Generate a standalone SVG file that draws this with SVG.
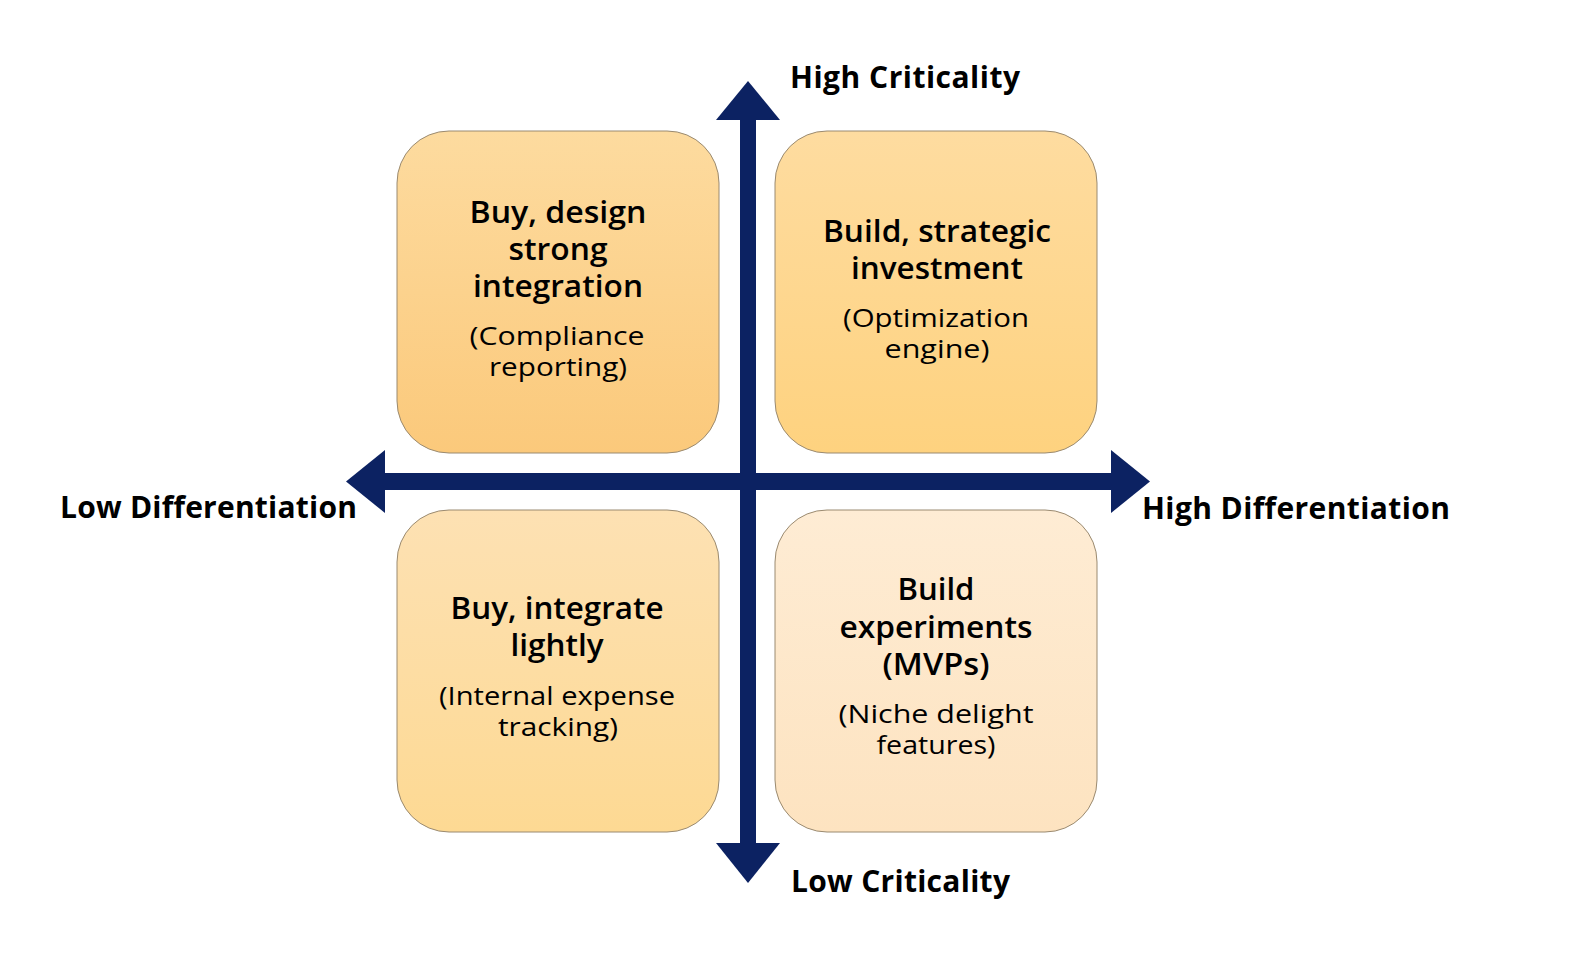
<svg xmlns="http://www.w3.org/2000/svg" width="1574" height="954" viewBox="0 0 1574 954">
<defs>
<linearGradient id="gTL" x1="0" y1="0" x2="0" y2="1"><stop offset="0" stop-color="#fddb9f"/><stop offset="1" stop-color="#fbc97b"/></linearGradient>
<linearGradient id="gTR" x1="0" y1="0" x2="0" y2="1"><stop offset="0" stop-color="#fedca0"/><stop offset="1" stop-color="#fed27f"/></linearGradient>
<linearGradient id="gBL" x1="0" y1="0" x2="0" y2="1"><stop offset="0" stop-color="#fde1b3"/><stop offset="1" stop-color="#fdd993"/></linearGradient>
<linearGradient id="gBR" x1="0" y1="0" x2="0" y2="1"><stop offset="0" stop-color="#feecd4"/><stop offset="1" stop-color="#fde3c0"/></linearGradient>
</defs>
<style>
.box{stroke:#9a8a70;stroke-width:1}
.axis{fill:#0c2262}
.ax{font-family:"Open Sans","Liberation Sans",sans-serif;font-weight:700;font-size:30px;fill:#000}
.t{font-family:"Open Sans","Liberation Sans",sans-serif;font-weight:600;font-size:31px;fill:#000;text-anchor:middle}
.s{font-family:"Open Sans","Liberation Sans",sans-serif;font-weight:normal;font-size:26px;fill:#000;text-anchor:middle}
</style>
<rect width="1574" height="954" fill="#fff"/>
<g id="q-tl">
<rect class="box" x="397" y="131" width="322" height="322" rx="52" fill="url(#gTL)"/>
<text class="t" x="558" y="223" textLength="177" lengthAdjust="spacingAndGlyphs">Buy, design</text>
<text class="t" x="558" y="260" textLength="99" lengthAdjust="spacingAndGlyphs">strong</text>
<text class="t" x="558" y="297" textLength="170" lengthAdjust="spacingAndGlyphs">integration</text>
<text class="s" x="557" y="345" textLength="175" lengthAdjust="spacingAndGlyphs">(Compliance</text>
<text class="s" x="558" y="376" textLength="138" lengthAdjust="spacingAndGlyphs">reporting)</text>
</g>
<g id="q-tr">
<rect class="box" x="775" y="131" width="322" height="322" rx="52" fill="url(#gTR)"/>
<text class="t" x="937" y="242" textLength="228" lengthAdjust="spacingAndGlyphs">Build, strategic</text>
<text class="t" x="937" y="279" textLength="172" lengthAdjust="spacingAndGlyphs">investment</text>
<text class="s" x="936" y="327" textLength="186" lengthAdjust="spacingAndGlyphs">(Optimization</text>
<text class="s" x="937" y="358" textLength="105" lengthAdjust="spacingAndGlyphs">engine)</text>
</g>
<g id="q-bl">
<rect class="box" x="397" y="510" width="322" height="322" rx="52" fill="url(#gBL)"/>
<text class="t" x="557" y="619" textLength="213" lengthAdjust="spacingAndGlyphs">Buy, integrate</text>
<text class="t" x="557" y="656" textLength="93" lengthAdjust="spacingAndGlyphs">lightly</text>
<text class="s" x="557" y="705" textLength="236" lengthAdjust="spacingAndGlyphs">(Internal expense</text>
<text class="s" x="558" y="736" textLength="120" lengthAdjust="spacingAndGlyphs">tracking)</text>
</g>
<g id="q-br">
<rect class="box" x="775" y="510" width="322" height="322" rx="52" fill="url(#gBR)"/>
<text class="t" x="936" y="600" textLength="77" lengthAdjust="spacingAndGlyphs">Build</text>
<text class="t" x="936" y="638" textLength="193" lengthAdjust="spacingAndGlyphs">experiments</text>
<text class="t" x="936" y="675" textLength="107" lengthAdjust="spacingAndGlyphs">(MVPs)</text>
<text class="s" x="936" y="723" textLength="195" lengthAdjust="spacingAndGlyphs">(Niche delight</text>
<text class="s" x="936" y="754" textLength="119" lengthAdjust="spacingAndGlyphs">features)</text>
</g>
<g id="connectors">
<rect class="axis" x="385" y="473" width="726" height="17"/>
<path class="axis" d="M346 481.5 L385 450 L385 513 Z"/>
<path class="axis" d="M1150 481.5 L1111 450 L1111 513 Z"/>
<rect class="axis" x="740" y="119" width="16" height="725"/>
<path class="axis" d="M748 81 L716 120 L780 120 Z"/>
<path class="axis" d="M748 883 L716 843 L780 843 Z"/>
</g>
<g id="labels">
<text class="ax" x="790" y="88" textLength="230">High Criticality</text>
<text class="ax" x="791" y="892" textLength="219">Low Criticality</text>
<text class="ax" x="60" y="518" textLength="297">Low Differentiation</text>
<text class="ax" x="1142" y="519" textLength="308">High Differentiation</text>
</g>
</svg>
